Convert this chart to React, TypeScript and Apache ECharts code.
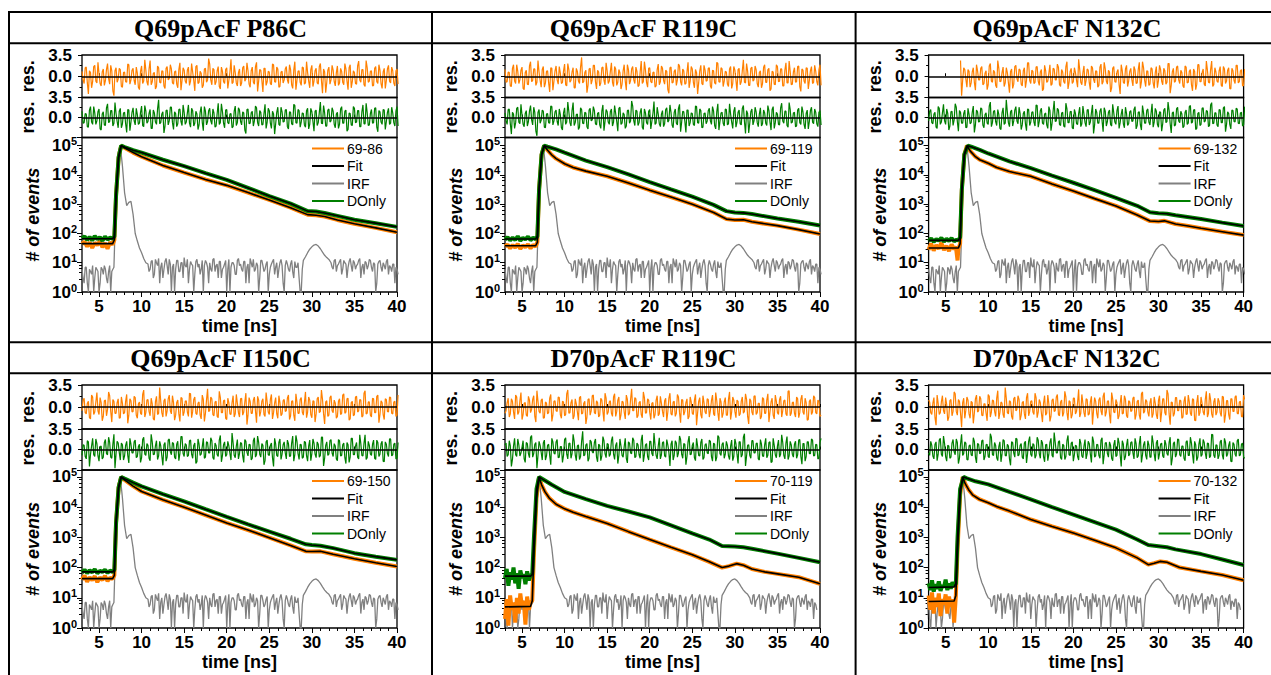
import React, { useEffect, useRef } from 'react';
import * as echarts from 'echarts';

// ---------- text ----------
const TITLES = ['Q69pAcF P86C', 'Q69pAcF R119C', 'Q69pAcF N132C', 'Q69pAcF I150C', 'D70pAcF R119C', 'D70pAcF N132C'];
const LABELS = ['69-86', '69-119', '69-132', '69-150', '70-119', '70-132'];
const X_TICKS = [5, 10, 15, 20, 25, 30, 35, 40];

// ---------- residuals (two interleaved sample sets, 0.125 ns apart, from 3 ns) ----------
const RES_T0 = 3;
const RES_STEP = 0.125;
const RA = [0.8,-1.2,1.5,-2.9,0.6,-0.9,1.8,-1.1,0.4,-1.6,1.2,-0.7,2.1,-1.3,0.9,-3.2,1.4,-0.5,1.1,-1.8,0.7,-1.0,1.9,-0.6,
1.3,-1.4,0.5,-2.2,1.7,-0.8,1.0,-1.5,2.6,-0.9,0.6,-1.7,1.4,-1.1,0.8,-2.0,1.6,-0.4,1.2,-1.3,0.9,-1.9,2.2,-0.7,
1.0,-1.2,1.5,-0.8,0.7,-2.4,1.8,-1.0,0.5,-1.5,1.3,-0.6,2.0,-1.4,1.1,-0.9,1.6,-2.1,0.8,-1.2,1.4,-0.7,2.8,-1.0,
0.6,-1.6,1.2,-1.1,1.7,-0.5,0.9,-1.8,1.5,-1.3,2.3,-0.8,1.0,-2.6,1.3,-0.9,0.7,-1.4,1.9,-1.0,1.2,-1.7,0.8,-0.6,
1.6,-1.2,1.1,-2.0,2.4,-0.7,0.9,-1.5,1.4,-1.1,0.6,-1.9,1.8,-0.8,1.3,-1.3,2.1,-2.8,0.7,-1.0,1.5,-0.6,1.0,-1.6,
1.7,-1.1,0.8,-1.4,1.2,-2.2,1.9,-0.9,0.6,-1.3,2.5,-1.0,1.1,-1.7,1.4,-0.8,0.9,-1.5,1.6,-1.2,1.0,-2.0,1.3,-0.7,
1.8,-1.1,0.9,-1.6,1.2];
const RB = [-0.6,1.4,-1.1,0.9,-1.9,1.6,-0.8,2.3,-1.2,0.7,-1.5,1.1,-0.4,1.8,-2.4,0.9,-1.0,1.3,-1.7,0.6,-0.9,2.0,-1.3,1.0,
-0.7,1.5,-1.8,0.8,-1.2,2.7,-0.9,1.2,-1.4,0.5,-2.1,1.7,-1.0,0.9,-1.6,1.3,-0.6,1.9,-1.1,0.7,-1.3,1.1,-2.3,1.4,
-0.8,1.0,-1.5,2.1,-0.7,1.6,-1.2,0.8,-1.9,1.2,-1.0,2.9,-0.6,1.3,-1.4,0.9,-1.7,1.5,-0.9,1.1,-2.0,0.7,-1.2,1.8,
-1.1,0.6,-1.6,1.4,-0.8,2.2,-1.3,0.9,-1.0,1.6,-2.5,1.1,-0.7,1.3,-1.5,0.8,-1.2,2.0,-0.9,1.5,-1.8,0.7,-1.1,1.2,
-0.6,1.9,-1.4,1.0,-2.2,0.8,-1.0,1.5,-1.3,2.4,-0.8,1.1,-1.7,0.9,-1.1,1.6,-0.7,1.2,-2.7,1.0,-1.3,1.8,-0.9,0.6,
-1.5,1.3,-1.0,2.1,-0.8,1.4,-1.9,0.9,-1.2,1.7,-0.6,1.1,-1.4,2.6,-1.0,0.8,-1.6,1.3,-0.9,1.9,-1.2,0.7,-2.0,1.2,
-0.8,1.5,-1.1,0.9,-1.3];
const RC = [1.1,-0.9,0.6,-1.7,1.9,-1.2,0.8,-0.6,1.5,-2.2,1.0,-1.4,2.4,-0.7,1.2,-1.0,0.7,-1.8,1.6,-1.1,0.9,-2.6,1.3,-0.8,
1.7,-1.3,0.5,-1.0,2.0,-1.6,1.1,-0.7,1.4,-1.9,0.8,-1.2,3.1,-0.9,1.0,-1.5,1.3,-0.6,1.8,-2.1,0.7,-1.1,1.5,-1.4,
0.9,-0.8,2.2,-1.7,1.2,-1.0,0.6,-1.3,1.9,-2.3,1.1,-0.7,1.6,-1.2,0.8,-1.5,2.5,-0.9,1.0,-1.8,1.4,-1.1,0.7,-1.6,
2.0,-0.9,1.3,-1.3,0.8,-2.8,1.5,-1.0,1.1,-0.6,1.7,-1.5,0.9,-1.2,2.3,-0.8,1.2,-1.9,0.6,-1.1,1.8,-1.4,1.0,-0.7,
1.4,-2.0,0.9,-1.3,2.1,-1.0,1.2,-0.8,0.7,-1.7,1.6,-1.2,1.0,-2.4,1.3,-0.9,2.7,-1.1,0.8,-1.5,1.5,-0.6,1.1,-1.8,
0.9,-1.2,1.9,-1.0,1.3,-2.1,0.7,-1.4,1.6,-0.8,1.2,-1.6,2.2,-1.1,0.8,-1.3,1.4,-0.9,1.7,-2.5,1.0,-1.2,1.3,-0.7,
1.6,-1.0,0.8,-1.5,1.9];
const RD = [-1.0,0.7,-1.6,1.3,-0.8,1.9,-1.2,1.0,-2.0,0.6,-1.3,1.7,-0.9,1.2,-1.5,2.6,-0.7,1.1,-1.8,0.8,-1.1,1.4,-2.3,0.9,
-0.6,1.6,-1.2,0.9,-1.4,2.1,-1.0,0.7,-1.9,1.3,-0.8,1.5,-1.1,0.6,-2.7,1.2,-1.3,1.8,-0.9,1.0,-1.6,1.4,-0.7,2.2,
-1.2,0.8,-1.0,1.6,-1.5,1.1,-2.1,0.9,-0.8,1.9,-1.3,1.2,-0.6,1.5,-1.7,0.7,-1.2,2.4,-1.0,1.3,-0.9,0.6,-1.8,1.1,
-1.4,1.7,-0.7,1.0,-2.2,1.4,-1.1,0.8,-1.5,2.0,-0.9,1.2,-1.3,0.7,-1.9,1.6,-1.0,1.1,-2.9,0.9,-1.2,1.8,-0.8,1.3,
-1.6,1.0,-1.1,2.3,-0.9,1.4,-1.7,0.8,-1.3,1.2,-2.0,1.6,-0.7,1.1,-1.4,0.9,-1.0,2.1,-1.5,1.3,-0.8,1.7,-1.2,0.6,
-1.9,1.5,-1.0,1.1,-2.4,0.8,-1.3,1.9,-0.9,1.2,-1.6,1.0,-1.1,2.5,-1.4,0.7,-1.0,1.6,-1.7,1.2,-0.8,1.4,-2.1,0.9,
-1.2,1.8,-0.9,1.1,-1.5];
const RES_ORANGE = [[RA, RB], [RC, RD], [RD, RA], [RB, RC], [RD, RB], [RC, RA]];
const RES_GREEN = [[RC, RD], [RA, RB], [RB, RC], [RD, RA], [RA, RC], [RB, RD]];
const RES_ORANGE_START = [3, 3, 6.75, 3, 3, 3];

// ---------- IRF (two interleaved sample sets in the noisy parts) ----------
const IRF_PRE = [6,2,7,1,5,8,3,6,1,7,4,6,2,8,5];      // 3.0 .. 6.5, step 0.25
const IRF_PRE_B = [3,7,2,6,4,1,7,5,2,6,8,3,5,1,6];    // 3.125 .. 6.625
const IRF_PEAK = [[6.75,7],[6.9,200],[7.0,3000],[7.25,60000],[7.5,100000],[7.75,20000],[8.0,2500],[8.25,900],[8.5,1150],[8.75,1250],[9.0,450],[9.25,100],[9.5,55],[9.75,32],[10.0,22],[10.25,14],[10.5,10]];
const IRF_MID = [9,6,12,4,10,14,7,3,11,8,13,1,9,6,12,5,10,15,7,2,11,8,4,13,9,6,1,12,7,10,5,14,8,3,11,6,9,1,13,7,10,4,12,8,6,11,2,9,14,7,5,10,1,12,8,6,11,4,9,13,7,3,10,8,1,12,6,9,5,11,7,3,1]; // 10.75 .. 28.75
const IRF_MID_B = [5,11,3,13,8,2,10,6,14,4,9,7,1,12,5,10,3,8,13,6,9,1,11,7,4,12,8,10,2,6,13,5,9,11,3,7,12,6,1,10,8,4,14,9,5,11,7,2,10,13,6,8,3,12,5,9,1,7,11,4,10,6,13,2,8,9,5,12,3,7,10,1,6]; // 10.875 .. 28.875
const IRF_BUMP = [[29.0,12],[29.25,16],[29.5,22],[29.75,29],[30.0,35],[30.25,40],[30.5,42],[30.75,37],[31.0,30],[31.25,23],[31.5,18],[31.75,15],[32.0,13]];
const IRF_TAIL = [10,6,13,8,11,4,12,9,7,14,5,10,8,12,3,9,11,6,13,7,10,1,9,12,5,8,11,4,7,9,2,6]; // 32.25 .. 40
const IRF_TAIL_B = [7,12,5,9,13,6,10,3,11,8,12,6,9,14,7,4,10,8,12,5,9,2,11,7,10,6,13,8,5,9,7,4]; // 32.375 ..
const IRF_OFFSET = [0, 0, 0, 0, -0.5, -0.5];

// ---------- decays: fits [t, counts] ----------
const P1_FIT = [[3,45],[6.6,45],[6.8,60],[7.0,2000],[7.3,40000],[7.6,100000],[8,85000],[9,58000],[10,42000],[12.5,21000],[15,12000],[17.5,7000],[20,4400],[22.5,2500],[25,1400],[27.5,760],[29.5,440],[30.5,420],[31.5,380],[33,290],[35,215],[37.5,155],[40,110]];
const P1_FIT_D = [[3,66],[6.6,66],[6.8,80],[7.0,2000],[7.3,40000],[7.6,100000],[8,90000],[9,70000],[10,58000],[12.5,33000],[15,20000],[17.5,11500],[20,6800],[22.5,3600],[25,1900],[27.5,1050],[29.5,580],[30.5,560],[31.5,500],[33,400],[35,295],[37.5,225],[40,168]];
const P2_FIT = [[3,38],[6.6,38],[6.8,50],[7.0,3000],[7.3,50000],[7.6,100000],[8,70000],[8.5,48000],[9,36000],[10,24000],[11,18000],[12.5,13500],[15,9000],[17.5,5300],[20,3000],[22.5,1750],[25,1000],[27.5,520],[29,310],[30,290],[31,295],[32,250],[33.5,215],[35,185],[37.5,135],[40,96]];
const P2_FIT_D = [[3,65],[6.6,65],[6.8,80],[7.0,3000],[7.3,50000],[7.6,100000],[8,92000],[9,75000],[10,58000],[12.5,31000],[15,18500],[17.5,10500],[20,5700],[22.5,3200],[25,1800],[27.5,950],[29,580],[30,520],[31,505],[32,460],[35,325],[37.5,250],[40,186]];
const P3_FIT = [[3,32],[6.5,32],[6.7,45],[6.9,3000],[7.2,50000],[7.5,100000],[7.9,65000],[8.5,42000],[9,33000],[10,25000],[11,18000],[12.5,13000],[15,9000],[17.5,4900],[20,2800],[22.5,1550],[25,870],[27.5,430],[29,265],[30,255],[30.7,270],[32,210],[33.5,180],[35,150],[37.5,115],[40,88]];
const P3_FIT_D = [[3,58],[6.5,58],[6.7,75],[6.9,3000],[7.2,50000],[7.6,100000],[8,92000],[9,72000],[10,54000],[12.5,29000],[15,17000],[17.5,9500],[20,5400],[22.5,3000],[25,1650],[27.5,880],[29,530],[30,490],[31,470],[32,420],[35,310],[37.5,235],[40,180]];
const P4_FIT = [[3,43],[6.6,43],[6.8,55],[7.0,3000],[7.3,45000],[7.6,100000],[8,80000],[9,50000],[10,33000],[12.5,17500],[15,10000],[17.5,5500],[20,3000],[22.5,1750],[25,980],[27.5,540],[29.3,345],[30,340],[31,345],[32.5,275],[35,197],[37.5,145],[40,108]];
const P4_FIT_D = [[3,72],[6.6,72],[6.8,85],[7.0,3000],[7.3,45000],[7.6,100000],[8,88000],[9,65000],[10,49000],[12.5,27000],[15,15500],[17.5,8600],[20,4800],[22.5,2700],[25,1560],[27.5,900],[29.3,590],[30,560],[31,530],[32.5,440],[35,300],[37.5,230],[40,180]];
const P5_FIT = [[3,5],[6,5.2],[6.2,8],[6.4,300],[6.7,20000],[7.0,100000],[7.3,55000],[7.7,32000],[8.2,20000],[9,12500],[10,8800],[11,6800],[12.5,4900],[15,2900],[17.5,1550],[20,850],[22.5,470],[25,265],[27,155],[28.5,100],[29.3,112],[30.2,135],[31,120],[32,90],[33.5,72],[35,62],[37.5,48],[40,29]];
const P5_FIT_D = [[3,52],[6,52],[6.2,60],[6.4,1000],[6.7,40000],[7.0,100000],[7.5,82000],[8.5,55000],[10,32000],[12.5,18500],[15,11000],[17.5,7200],[20,4600],[22.5,2500],[25,1350],[27,850],[28.5,520],[30,500],[31,470],[32,420],[35,290],[37.5,210],[40,150]];
const P6_FIT = [[3,7.5],[6,7.8],[6.2,12],[6.4,400],[6.7,25000],[7.0,100000],[7.3,60000],[7.7,38000],[8.2,25000],[9,18000],[10,14000],[11,10500],[12.5,7400],[15,3900],[17.5,2300],[20,1400],[22.5,800],[25,450],[27.5,210],[28.8,125],[29.5,140],[30.2,160],[31,150],[32.5,100],[35,75],[37.5,57],[40,38]];
const P6_FIT_D = [[3,22],[6,23],[6.2,30],[6.4,1000],[6.7,40000],[7.1,100000],[7.5,90000],[8.5,72000],[10,57000],[12.5,32000],[15,18000],[17.5,10000],[20,5700],[22.5,3200],[25,1800],[27.5,850],[28.8,560],[30,510],[31,470],[32,400],[35,280],[37.5,185],[40,122]];

// ---------- noisy pre-rise baselines of the measured curves ----------
const P1_BASE = [[3,44],[3.3,52],[3.6,36],[3.9,50],[4.2,32],[4.5,48],[4.8,40],[5.1,55],[5.4,34],[5.7,47],[6,30],[6.3,50],[6.6,42]];
const P1_BASE_D = [[3,68],[3.3,80],[3.6,60],[3.9,76],[4.2,58],[4.5,82],[4.8,64],[5.1,74],[5.4,56],[5.7,78],[6,62],[6.3,72],[6.6,66]];
const P2_BASE = [[3,36],[3.3,42],[3.6,31],[3.9,40],[4.2,33],[4.5,44],[4.8,30],[5.1,39],[5.4,34],[5.7,43],[6,31],[6.3,40],[6.6,36]];
const P2_BASE_D = [[3,62],[3.3,75],[3.6,58],[3.9,72],[4.2,60],[4.5,80],[4.8,57],[5.1,70],[5.4,63],[5.7,78],[6,59],[6.3,71],[6.6,64]];
const P3_BASE = [[3,28],[3.3,45],[3.6,26],[3.9,40],[4.2,30],[4.5,48],[4.8,27],[5.1,38],[5.4,25],[5.7,42],[6,29],[6.2,36],[6.4,12],[6.5,30]];
const P3_BASE_D = [[3,55],[3.3,68],[3.6,52],[3.9,64],[4.2,57],[4.5,70],[4.8,53],[5.1,66],[5.4,56],[5.7,69],[6,54],[6.3,62],[6.5,58]];
const P4_BASE = [[3,40],[3.3,55],[3.6,34],[3.9,48],[4.2,38],[4.5,52],[4.8,33],[5.1,47],[5.4,39],[5.7,53],[6,36],[6.3,46],[6.6,42]];
const P4_BASE_D = [[3,68],[3.3,85],[3.6,66],[3.9,80],[4.2,70],[4.5,88],[4.8,65],[5.1,78],[5.4,72],[5.7,84],[6,67],[6.3,79],[6.6,72]];
const P5_BASE = [[3,2],[3.2,9],[3.4,1.2],[3.6,12],[3.8,4],[4,7],[4.2,1.5],[4.4,10],[4.6,3],[4.8,14],[5,5],[5.2,8],[5.4,1.3],[5.6,11],[5.8,4],[6,7]];
const P5_BASE_D = [[3,45],[3.2,90],[3.4,25],[3.6,70],[3.8,40],[4,100],[4.2,30],[4.4,65],[4.6,20],[4.8,80],[5,45],[5.2,60],[5.4,28],[5.6,75],[5.8,38],[6,55]];
const P6_BASE = [[3,12],[3.2,4],[3.4,15],[3.6,3],[3.8,10],[4,5],[4.2,14],[4.4,2.5],[4.6,9],[4.8,6],[5,13],[5.2,3],[5.4,11],[5.6,5],[5.8,9],[6,1.5]];
const P6_BASE_D = [[3,30],[3.2,18],[3.4,38],[3.6,16],[3.8,28],[4,20],[4.2,35],[4.4,17],[4.6,26],[4.8,22],[5,40],[5.2,18],[5.4,30],[5.6,20],[5.8,33],[6,24]];

const FITS = [P1_FIT, P2_FIT, P3_FIT, P4_FIT, P5_FIT, P6_FIT];
const FITS_D = [P1_FIT_D, P2_FIT_D, P3_FIT_D, P4_FIT_D, P5_FIT_D, P6_FIT_D];
const BASES = [P1_BASE, P2_BASE, P3_BASE, P4_BASE, P5_BASE, P6_BASE];
const BASES_D = [P1_BASE_D, P2_BASE_D, P3_BASE_D, P4_BASE_D, P5_BASE_D, P6_BASE_D];

// ---------- style / layout ----------
const ORANGE = '#FF8000';
const GREEN = '#007F00';
const GRAY = '#808080';
const SANS = '"Liberation Sans", Arial, sans-serif';
const SERIF = '"Liberation Serif", "Times New Roman", serif';
const COLS = [9, 432, 855.6];
const COL_W = 423;
const ROWS = [
  { tTop: 12, tBot: 43.3, r1: 55, r2: 97.5, d: 137.5, b: 292, max: 1.9e5, xGap: 25 },
  { tTop: 342.3, tBot: 373.3, r1: 385, r2: 429, d: 470, b: 628, max: 1.7e5, xGap: 25 },
];

function measured(base: number[][], fit: number[][]) {
  const last = base[base.length - 1][0];
  return base.concat(fit.filter((p) => p[0] > last));
}
function resData(pair: number[][], start: number) {
  const [a, b] = pair;
  const out: any[] = [];
  for (let i = 0; i < a.length; i++) {
    out.push(a[i]);
    if (i < b.length) out.push(b[i]);
  }
  return out.map((v, i) => {
    const t = RES_T0 + i * RES_STEP;
    return [t, t < start - 1e-9 ? null : v];
  });
}
function irfData(off: number) {
  const out: number[][] = [];
  IRF_PRE.forEach((v, i) => out.push([3 + 0.25 * i + off, v]));
  IRF_PRE_B.forEach((v, i) => out.push([3.125 + 0.25 * i + off, v]));
  IRF_PEAK.forEach(([t, v]) => out.push([t + off, v]));
  IRF_MID.forEach((v, i) => out.push([10.75 + 0.25 * i + off, v]));
  IRF_MID_B.forEach((v, i) => out.push([10.875 + 0.25 * i + off, v]));
  IRF_BUMP.forEach(([t, v]) => out.push([t + off, v]));
  IRF_TAIL.forEach((v, i) => out.push([32.25 + 0.25 * i + off, v]));
  IRF_TAIL_B.forEach((v, i) => out.push([32.375 + 0.25 * i + off, v]));
  return out.sort((p, q) => p[0] - q[0]);
}

function buildOption() {
  const grid: any[] = [];
  const xAxis: any[] = [];
  const yAxis: any[] = [];
  const series: any[] = [];
  const legend: any[] = [];
  const graphic: any[] = [];
  const minorX: number[] = [];
  for (let t = 3; t <= 40; t++) if (t % 5 !== 0) minorX.push(t);

  const tickLabel = { color: '#000', fontFamily: SANS, fontWeight: 'bold', fontSize: 17 };
  const nameStyle = { color: '#000', fontFamily: SANS, fontWeight: 'bold', fontSize: 18 };

  for (let p = 0; p < 6; p++) {
    const c = p % 3;
    const R = ROWS[Math.floor(p / 3)];
    const left = COLS[c] + 73;
    const width = 315;
    const g = grid.length;
    const gridBase = { left, width, show: true, borderColor: '#000', borderWidth: 1.3, backgroundColor: 'transparent', containLabel: false, outerBoundsMode: 'none' };
    grid.push({ ...gridBase, top: R.r1, height: R.r2 - R.r1 });
    grid.push({ ...gridBase, top: R.r2, height: R.d - R.r2 });
    grid.push({ ...gridBase, top: R.d, height: R.b - R.d });

    for (let k = 0; k < 2; k++) {
      xAxis.push({
        type: 'value', gridIndex: g + k, min: 3, max: 40,
        axisLine: { show: false }, splitLine: { show: false }, axisLabel: { show: false },
        axisTick: { show: true, inside: true, length: 3, customValues: X_TICKS, lineStyle: { color: '#000' } },
      });
      yAxis.push({
        type: 'value', gridIndex: g + k, min: -3.5, max: 3.5, interval: 3.5,
        axisLine: { show: false }, splitLine: { show: false },
        axisTick: { show: true, length: 4, lineStyle: { color: '#000' } },
        minorTick: { show: true, splitNumber: 2, length: 2.5, lineStyle: { color: '#000' } },
        axisLabel: { ...tickLabel, margin: 10, formatter: (v: number) => (v < 0 ? '' : v.toFixed(1)) },
        name: 'res.', nameLocation: 'middle', nameGap: 45, nameRotate: 90, nameMoveOverlap: false,
        nameTextStyle: nameStyle,
      });
    }
    xAxis.push({
      type: 'value', gridIndex: g + 2, min: 3, max: 40,
      axisLine: { show: false }, splitLine: { show: false },
      axisTick: { show: true, length: 5, customValues: X_TICKS, lineStyle: { color: '#000' } },
      axisLabel: { ...tickLabel, margin: 6, customValues: X_TICKS },
      name: 'time [ns]', nameLocation: 'middle', nameGap: R.xGap, nameMoveOverlap: false, nameTextStyle: nameStyle,
    });
    yAxis.push({
      type: 'log', logBase: 10, gridIndex: g + 2, min: 1, max: R.max,
      axisLine: { show: false }, splitLine: { show: false },
      axisTick: { show: true, length: 5, lineStyle: { color: '#000' } },
      minorTick: { show: true, splitNumber: 5, length: 3, lineStyle: { color: '#000' } },
      axisLabel: {
        margin: 5,
        formatter: (v: number) => {
          const e = Math.log10(v);
          const r = Math.round(e);
          if (Math.abs(e - r) > 1e-6) return '';
          return '{b|10}{s|' + r + '}';
        },
        rich: {
          b: { ...tickLabel, lineHeight: 20 },
          s: { color: '#000', fontFamily: SANS, fontWeight: 'bold', fontSize: 11, lineHeight: 11, verticalAlign: 'top' },
        },
      },
      name: '# of events', nameLocation: 'middle', nameGap: 40, nameRotate: 90, nameMoveOverlap: false,
      nameTextStyle: { ...nameStyle, fontStyle: 'italic' },
    });

    const xi = g;
    const zeroLine = {
      silent: true, symbol: 'none', label: { show: false },
      lineStyle: { color: '#000', width: 1.5, type: 'solid' }, data: [{ yAxis: 0 }],
    };
    series.push({
      type: 'line', name: 'res-o-' + p, xAxisIndex: xi, yAxisIndex: xi, symbol: 'none', showSymbol: false,
      data: resData(RES_ORANGE[p], RES_ORANGE_START[p]), lineStyle: { color: ORANGE, width: 1.2 }, itemStyle: { color: ORANGE },
      markLine: zeroLine,
    });
    series.push({
      type: 'line', name: 'res-g-' + p, xAxisIndex: xi + 1, yAxisIndex: xi + 1, symbol: 'none', showSymbol: false,
      data: resData(RES_GREEN[p], 3), lineStyle: { color: GREEN, width: 1.2 }, itemStyle: { color: GREEN },
      markLine: zeroLine,
    });
    const d = { xAxisIndex: xi + 2, yAxisIndex: xi + 2, type: 'line', symbol: 'none', showSymbol: false };
    series.push({ ...d, name: 'IRF', data: irfData(IRF_OFFSET[p]), lineStyle: { color: GRAY, width: 1.3 }, itemStyle: { color: GRAY } });
    series.push({ ...d, name: LABELS[p], data: measured(BASES[p], FITS[p]), lineStyle: { color: ORANGE, width: 4 }, itemStyle: { color: ORANGE } });
    series.push({ ...d, name: 'DOnly', data: measured(BASES_D[p], FITS_D[p]), lineStyle: { color: GREEN, width: 4 }, itemStyle: { color: GREEN } });
    series.push({ ...d, name: 'Fit', data: FITS[p], lineStyle: { color: '#000', width: 1.6 }, itemStyle: { color: '#000' } });
    series.push({ ...d, name: 'Fit', data: FITS_D[p], lineStyle: { color: '#000', width: 1.6 }, itemStyle: { color: '#000' } });

    legend.push({
      orient: 'vertical', left: left + width - 85, top: R.d + 3, padding: 0,
      itemWidth: 32, itemHeight: 2, itemGap: 1.5, selectedMode: false,
      icon: 'rect',
      data: [LABELS[p], 'Fit', 'IRF', 'DOnly'],
      textStyle: { color: '#000', fontFamily: SANS, fontSize: 14, lineHeight: 16, padding: [0, 0, 0, -2] },
    });

    graphic.push({
      type: 'text', x: COLS[c] + COL_W / 2, y: (R.tTop + R.tBot) / 2 + 1,
      style: { text: TITLES[p], fill: '#000', font: 'bold 26px ' + SERIF, align: 'center', verticalAlign: 'middle' },
    });
  }
  for (let p = 0; p < 6; p++) {
    xAxis.push({
      type: 'value', gridIndex: p * 3 + 2, min: 3, max: 40, position: 'bottom',
      axisLine: { show: false }, splitLine: { show: false }, axisLabel: { show: false },
      axisTick: { show: true, length: 3, customValues: minorX, lineStyle: { color: '#000' } },
    });
  }

  const L = (x1: number, y1: number, x2: number, y2: number) => ({
    type: 'line', shape: { x1, y1, x2, y2 }, style: { stroke: '#000', lineWidth: 2 }, silent: true,
  });
  [12, 43.3, 342.3, 373.3].forEach((y) => graphic.push(L(8, y, 1280, y)));
  [9, 432, 855.6].forEach((x) => graphic.push(L(x, 11, x, 700)));

  return {
    animation: false,
    backgroundColor: '#fff',
    grid, xAxis, yAxis, series, legend, graphic,
  };
}

export default function App() {
  const ref = useRef<HTMLDivElement>(null);
  useEffect(() => {
    const chart = echarts.init(ref.current!, null, { renderer: 'svg', width: 1271, height: 675 });
    chart.setOption(buildOption() as any);
    return () => chart.dispose();
  }, []);
  return (
    <div
      ref={ref}
      style={{ position: 'fixed', left: 0, top: 0, width: 1271, height: 675, background: '#fff' }}
    />
  );
}
